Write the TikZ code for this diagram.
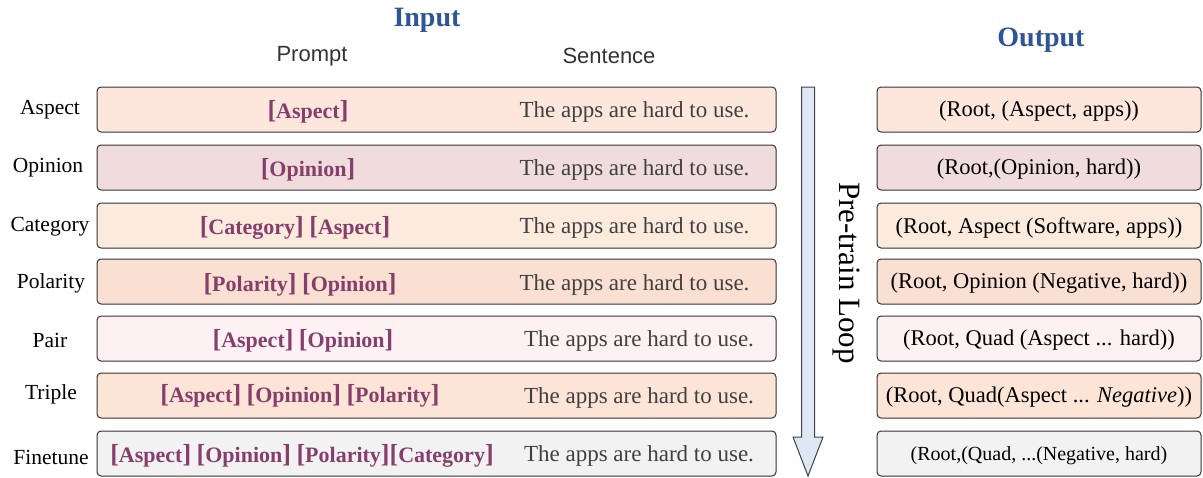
\documentclass[tikz,border=0pt]{standalone}
\usepackage{fontspec}
\setmainfont{Liberation Serif}
\newfontfamily\hsans{Liberation Sans}
\definecolor{rowA}{HTML}{FDE7DD}
\definecolor{rowB}{HTML}{F0DCDC}
\definecolor{rowC}{HTML}{FCEBDD}
\definecolor{rowD}{HTML}{FADFD3}
\definecolor{rowE}{HTML}{FEF1F3}
\definecolor{rowF}{HTML}{FCE4D6}
\definecolor{rowG}{HTML}{F2F2F2}
\definecolor{tagc}{HTML}{863E6C}
\definecolor{sentc}{HTML}{404040}
\definecolor{headc}{HTML}{2F5597}
\definecolor{arrowc}{HTML}{DEE8F4}
% a bold prompt tag with enlarged brackets
\newcommand\ptag[1]{{\fontsize{26}{26}\selectfont[}#1{\fontsize{26}{26}\selectfont]}}
\begin{document}
\begin{tikzpicture}[x=1pt,y=-1pt,
  box/.style={draw=black!80, line width=1pt, rounded corners=4pt, inner sep=0pt},
  inbox/.style={box, minimum width=679pt, minimum height=45pt},
  outbox/.style={box, minimum width=324pt, minimum height=45pt},
  lbl/.style={font=\fontsize{21.5}{24}\selectfont, text=black, inner sep=0pt},
  tagtext/.style={font=\fontsize{22}{24}\selectfont\bfseries, text=tagc, inner sep=0pt},
  sent/.style={font=\fontsize{23}{26}\selectfont, text=sentc, inner sep=0pt},
  outtext/.style={font=\fontsize{22.5}{25}\selectfont, text=black, inner sep=0pt},
  headtext/.style={font=\fontsize{28}{30}\selectfont\bfseries, text=headc, inner sep=0pt},
  coltext/.style={font=\hsans\fontsize{22}{24}\selectfont, text=black!80, inner sep=0pt}]

\useasboundingbox (0,0) rectangle (1203,477);

% column headings
\node[headtext] (hin) at (427,20) {Input};
\node[headtext] (hout) at (1041,40) {Output};
\node[coltext] (hprompt) at (312,56) {Prompt};
\node[coltext] (hsent) at (609,56) {Sentence};

% input rows
\node[inbox, fill=rowA] (in1) at (436.5,109.5) {};
\node[inbox, fill=rowB] (in2) at (436.5,167.5) {};
\node[inbox, fill=rowC] (in3) at (436.5,225.5) {};
\node[inbox, fill=rowD] (in4) at (436.5,281.5) {};
\node[inbox, fill=rowE] (in5) at (436.5,338.5) {};
\node[inbox, fill=rowF] (in6) at (436.5,395.5) {};
\node[inbox, fill=rowG] (in7) at (436.5,453.5) {};

% output rows
\node[outbox, fill=rowA] (out1) at (1039,109.5) {};
\node[outbox, fill=rowB] (out2) at (1039,167.5) {};
\node[outbox, fill=rowC] (out3) at (1039,225.5) {};
\node[outbox, fill=rowD] (out4) at (1039,281.5) {};
\node[outbox, fill=rowE] (out5) at (1039,338.5) {};
\node[outbox, fill=rowF] (out6) at (1039,395.5) {};
\node[outbox, fill=rowG] (out7) at (1039,453.5) {};

% task labels
\node[lbl] (l1) at (50,110) {Aspect};
\node[lbl] (l2) at (48,168) {Opinion};
\node[lbl] (l3) at (50,227) {Category};
\node[lbl] (l4) at (51,283) {Polarity};
\node[lbl] (l5) at (50,340) {Pair};
\node[lbl] (l6) at (51,394) {Triple};
\node[lbl] (l7) at (51,457) {Finetune};

% prompts
\node[tagtext] (p1) at (308,112) {\ptag{Aspect}};
\node[tagtext] (p2) at (308,170) {\ptag{Opinion}};
\node[tagtext] (p3) at (295,228) {\ptag{Category} \ptag{Aspect}};
\node[tagtext] (p4) at (300,285) {\ptag{Polarity} \ptag{Opinion}};
\node[tagtext] (p5) at (303,341) {\ptag{Aspect} \ptag{Opinion}};
\node[tagtext] (p6) at (300,396) {\ptag{Aspect} \ptag{Opinion} \ptag{Polarity}};
\node[tagtext] (p7) at (302,456) {\ptag{Aspect} \ptag{Opinion} \ptag{Polarity}\ptag{Category}};

% sentences
\node[sent] (s1) at (634.5,112) {The apps are hard to use.};
\node[sent] (s2) at (634.5,170) {The apps are hard to use.};
\node[sent] (s3) at (634.5,228) {The apps are hard to use.};
\node[sent] (s4) at (634.5,285) {The apps are hard to use.};
\node[sent] (s5) at (639,341) {The apps are hard to use.};
\node[sent] (s6) at (639,398) {The apps are hard to use.};
\node[sent] (s7) at (639,456) {The apps are hard to use.};

% outputs
\node[outtext] (o1) at ([yshift=-2pt]out1) {(Root, (Aspect, apps))};
\node[outtext] (o2) at ([yshift=-2pt]out2) {(Root,(Opinion, hard))};
\node[outtext] (o3) at ([yshift=-2pt]out3) {(Root, Aspect (Software, apps))};
\node[outtext] (o4) at ([yshift=-2pt]out4) {(Root, Opinion (Negative, hard))};
\node[outtext] (o5) at ([yshift=-2pt]out5) {(Root, Quad (Aspect ... hard))};
\node[outtext] (o6) at ([yshift=-2pt]out6) {(Root, Quad(Aspect ... \textit{Negative}))};
\node[outtext, font=\fontsize{20}{22}\selectfont] (o7) at ([yshift=-2pt]out7) {(Root,(Quad, ...(Negative, hard)};

% pre-training loop arrow
\draw[fill=arrowc, draw=black!75, line width=1pt]
  (801.5,87) -- (814.5,87) -- (814.5,437) -- (823,437) -- (808,476)
  -- (793,437) -- (801.5,437) -- cycle;
\node[font=\fontsize{31}{32}\selectfont, rotate=-90, inner sep=0pt] (loop) at (846,273) {Pre-train Loop};
\end{tikzpicture}
\end{document}
